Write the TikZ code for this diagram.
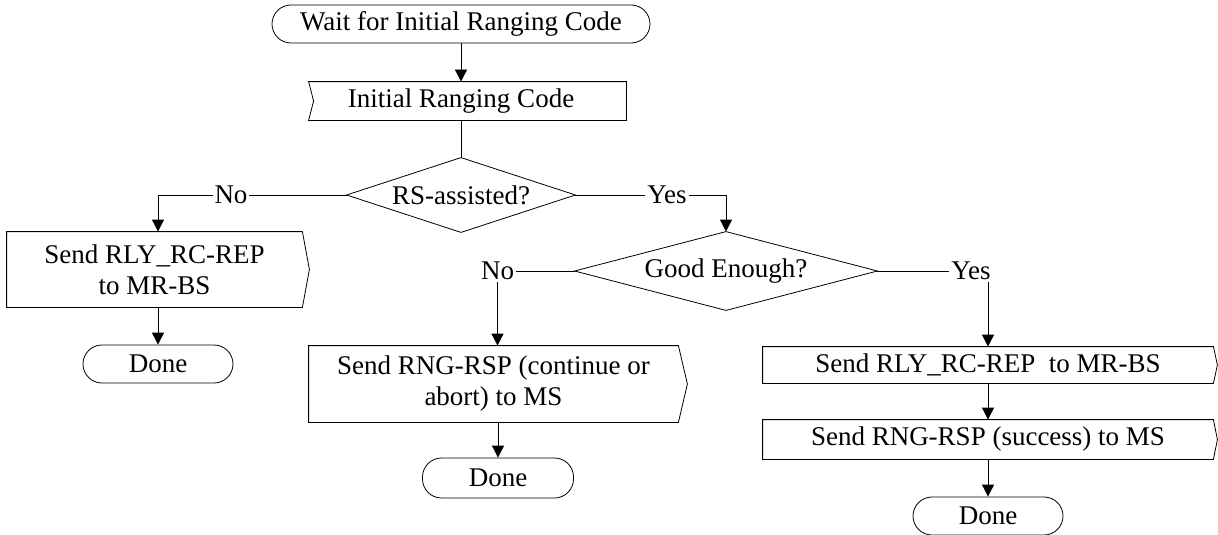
\documentclass[tikz,border=0pt]{standalone}
\usepackage{fontspec}
\setmainfont{Liberation Serif}
\usetikzlibrary{arrows.meta}
\begin{document}
\begin{tikzpicture}[x=1pt,y=-1pt,
  line width=0.8pt,
  every node/.style={font=\fontsize{27}{31}\selectfont, inner sep=0pt, align=center},
  term/.style={draw, rounded corners=19pt, minimum height=38pt},
  lbl/.style={inner sep=1.5pt},
  arr/.style={-{Triangle[length=12pt,width=12pt]}}]
\useasboundingbox (0,0) rectangle (1218,535);

% nodes
\node[term, minimum width=378pt] (start) at (461,24) {Wait for Initial Ranging Code};
\node[minimum width=317pt, minimum height=38pt] (irc) at (467.5,101) {\hspace*{-13pt}Initial Ranging Code};
\node[minimum width=228pt, minimum height=74pt] (rs) at (461,195) {RS-assisted?};
\node[lbl] (noL) at (231,195) {No};
\coordinate (cL) at (158,195);
\node[lbl] (yes1) at (667,195) {Yes};
\node[minimum width=295pt, minimum height=75pt] (lbox) at (154.5,269.5) {Send RLY\_RC-REP\\to MR-BS};
\node[term, minimum width=150pt] (done1) at (158,364) {Done};
\node[minimum width=302pt, minimum height=78pt] (ge) at (726,271) {Good Enough?};
\node[lbl] (no2) at (497.5,271) {No};
\node[lbl] (yes2) at (971,271) {Yes};
\node[minimum width=369pt, minimum height=76pt] (mid) at (493.5,384) {Send RNG-RSP (continue or\\abort) to MS};
\node[term, minimum width=151pt, minimum height=40pt] (done2) at (498,478) {Done};
\node[minimum width=450pt, minimum height=36pt] (r1) at (988,365) {Send RLY\_RC-REP\ \ to MR-BS};
\node[minimum width=450pt, minimum height=39pt] (r2) at (988,439.5) {Send RNG-RSP (success) to MS};
\node[term, minimum width=150pt] (done3) at (988,516) {Done};

% shape outlines
\draw (irc.north west) -- (irc.north east) -- (irc.south east) -- (irc.south west) -- ([xshift=5pt]irc.west) -- cycle;
\draw (rs.north) -- (rs.east) -- (rs.south) -- (rs.west) -- cycle;
\draw (ge.north) -- (ge.east) -- (ge.south) -- (ge.west) -- cycle;
\draw (lbox.north west) -- (lbox.north east) -- ([xshift=7pt]lbox.east) -- (lbox.south east) -- (lbox.south west) -- cycle;
\draw (mid.north west) -- (mid.north east) -- ([xshift=9pt]mid.east) -- (mid.south east) -- (mid.south west) -- cycle;
\draw (r1.north west) -- (r1.north east) -- ([xshift=4pt]r1.east) -- (r1.south east) -- (r1.south west) -- cycle;
\draw (r2.north west) -- (r2.north east) -- ([xshift=4pt]r2.east) -- (r2.south east) -- (r2.south west) -- cycle;

% connectors
\draw[arr] (start.south) -- (start.south |- irc.north);
\draw (rs.north |- irc.south) -- (rs.north);
\draw (rs.west) -- (noL.east);
\draw[arr] (noL.west) -- (cL) -- (cL |- lbox.north);
\draw[arr] (done1.north |- lbox.south) -- (done1.north);
\draw (rs.east) -- (yes1.west);
\draw[arr] (yes1.east) -| (ge.north);
\draw (ge.west) -- (no2.east);
\draw[arr] (no2.south) -- (no2.south |- mid.north);
\draw[arr] (done2.north |- mid.south) -- (done2.north);
\draw (ge.east) -- (yes2.west);
\draw[arr] (yes2.south -| r1.north) -- (r1.north);
\draw[arr] (r1.south) -- (r2.north);
\draw[arr] (r2.south) -- (done3.north);
\end{tikzpicture}
\end{document}
